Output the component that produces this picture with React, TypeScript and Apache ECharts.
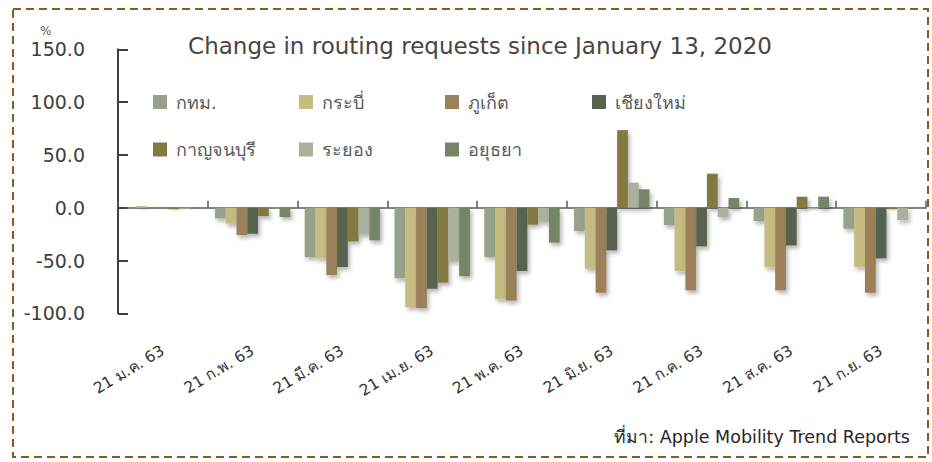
import React, { useEffect, useRef } from 'react';
import * as echarts from 'echarts';

const categories = ['21 ม.ค. 63', '21 ก.พ. 63', '21 มี.ค. 63', '21 เม.ย. 63', '21 พ.ค. 63', '21 มิ.ย. 63', '21 ก.ค. 63', '21 ส.ค. 63', '21 ก.ย. 63'];
const seriesNames = ['กทม.', 'กระบี่', 'ภูเก็ต', 'เชียงใหม่', 'กาญจนบุรี', 'ระยอง', 'อยุธยา'];
const bangkok = [-0.5, -10.1, -46.7, -66.9, -46.7, -22.1, -16.4, -12.6, -19.9];
const krabi = [1.5, -15.2, -48.0, -94.0, -86.8, -57.8, -60.0, -56.5, -56.2];
const phuket = [0.3, -25.9, -63.7, -95.0, -87.8, -80.5, -78.3, -78.3, -80.5];
const chiangmai = [0, -24.6, -56.2, -76.7, -60.0, -40.4, -36.6, -35.7, -48.0];
const kanchanaburi = [-1.5, -7.9, -31.9, -71.0, -16.1, 73.5, 32.2, 10.4, -1.5];
const rayong = [-1.0, -0.5, -25.3, -50.5, -13.3, 23.7, -8.8, -1.5, -11.7];
const ayutthaya = [-0.5, -8.8, -30.9, -65.0, -33.1, 17.4, 9.2, 10.4, null];
const seriesValues = [bangkok, krabi, phuket, chiangmai, kanchanaburi, rayong, ayutthaya];
const colors = ['#96a38a', '#c4bc80', '#9c8058', '#596350', '#847a40', '#aab29e', '#768468'];
const yMin = -100;
const yMax = 150;
const yStep = 50;
const titleText = 'Change in routing requests since January 13, 2020';
const sourceText = 'ที่มา: Apple Mobility Trend Reports';

const FONT = "Tahoma, 'DejaVu Sans', 'Noto Sans', sans-serif";

const legendPos = [
  [153, 93], [299, 93], [445, 93], [592, 93],
  [153, 140.5], [299, 140.5], [445, 140.5],
];

export default function App() {
  const ref = useRef<HTMLDivElement>(null);
  useEffect(() => {
    document.body.style.margin = '0';
    const chart = echarts.init(ref.current!, null, { renderer: 'svg' });
    const option: any = {
      animation: false,
      backgroundColor: '#ffffff',
      textStyle: { fontFamily: FONT },
      title: {
        text: titleText,
        left: 480,
        textAlign: 'center',
        top: 34,
        padding: 0,
        textStyle: { fontFamily: FONT, fontSize: 23, fontWeight: 'normal', color: '#4d4343' },
      },
      legend: seriesNames.map((n, i) => ({
        data: [n],
        left: legendPos[i][0],
        top: legendPos[i][1],
        padding: 0,
        icon: 'rect',
        itemWidth: 14,
        itemHeight: 14,
        selectedMode: false,
        textStyle: { fontFamily: FONT, fontSize: 18, color: '#595959', padding: [0, 0, 0, 4] },
      })),
      grid: { left: 118, right: 6, top: 49.3, bottom: 462 - 313.3, containLabel: false },
      xAxis: [
        {
          type: 'category',
          data: categories,
          axisLine: { show: true, onZero: true, lineStyle: { color: '#595959', width: 1.5 } },
          axisTick: { show: true, inside: true, length: 7, lineStyle: { color: '#595959', width: 1.5 } },
          axisLabel: { show: false },
          splitLine: { show: false },
        },
        {
          type: 'category',
          data: categories,
          position: 'bottom',
          axisLine: { show: false, onZero: false },
          axisTick: { show: false },
          axisLabel: { show: true, rotate: 31, margin: 36, fontFamily: FONT, fontSize: 15.5, color: '#333333', interval: 0 },
          splitLine: { show: false },
        },
      ],
      yAxis: {
        type: 'value',
        min: yMin,
        max: yMax,
        interval: yStep,
        axisLine: { show: true, lineStyle: { color: '#404040', width: 2 } },
        axisTick: { show: true, inside: true, length: 10, lineStyle: { color: '#404040', width: 2 } },
        axisLabel: { margin: 33, fontFamily: FONT, fontSize: 19, color: '#404040', formatter: (v: number) => v.toFixed(1) },
        splitLine: { show: false },
      },
      series: seriesNames.map((n, i) => ({
        name: n,
        type: 'bar',
        xAxisIndex: 0,
        data: seriesValues[i],
        barGap: '0%',
        barCategoryGap: '16%',
        itemStyle: {
          color: colors[i],
          shadowBlur: 4,
          shadowColor: 'rgba(0,0,0,0.3)',
          shadowOffsetX: 2,
          shadowOffsetY: 3,
        },
      })),
      graphic: [
        {
          type: 'rect',
          shape: { x: 13, y: 9, width: 915, height: 448 },
          style: { fill: 'none', stroke: '#8a5a1e', lineWidth: 2, lineDash: [8, 5] },
          silent: true,
        },
        {
          type: 'text',
          x: 40,
          y: 25,
          style: { text: '%', fontFamily: FONT, fontSize: 12, fill: '#595959' },
        },
        {
          type: 'text',
          x: 910,
          y: 428,
          style: { text: sourceText, fontFamily: FONT, fontSize: 17.5, fill: '#262626', textAlign: 'right' },
        },
      ],
    };
    chart.setOption(option);
    return () => chart.dispose();
  }, []);
  return <div ref={ref} style={{ width: 932, height: 462 }} />;
}
